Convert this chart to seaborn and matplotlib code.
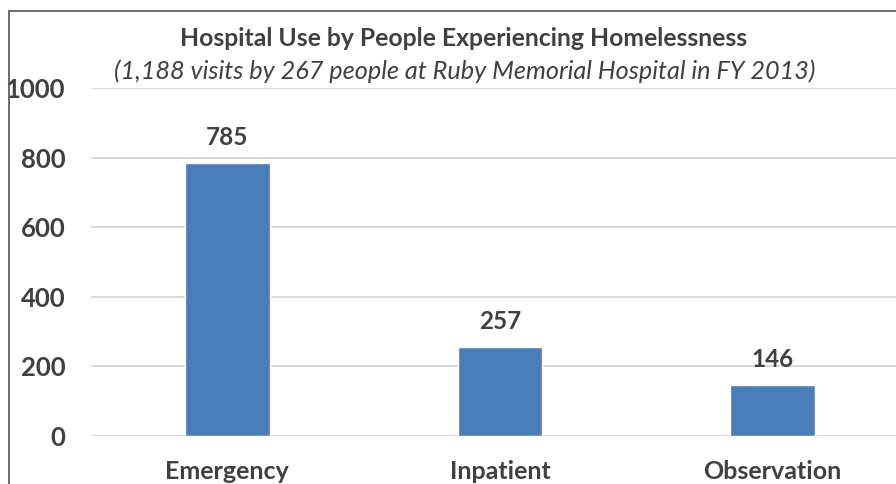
import matplotlib
matplotlib.use("Agg")
import matplotlib.pyplot as plt
from matplotlib.lines import Line2D
import seaborn as sns
import pandas as pd

categories = ["Emergency", "Inpatient", "Observation"]
visits = [785, 257, 146]
y_ticks = [0, 200, 400, 600, 800, 1000]

title = "Hospital Use by People Experiencing Homelessness"
subtitle = "(1,188 visits by 267 people at Ruby Memorial Hospital in FY 2013)"

sns.set_theme(style="white")
plt.rcParams["font.family"] = ["Lato", "DejaVu Sans"]

text_color = "#404040"
bar_color = "#4a7ebb"

df = pd.DataFrame({"category": categories, "visits": visits})

fig = plt.figure(figsize=(8.96, 4.84), dpi=100)
ax = fig.add_axes([91 / 896, 48 / 484, 818 / 896, 348 / 484])

sns.barplot(data=df, x="category", y="visits", color=bar_color,
            width=0.31, saturation=1, ax=ax, zorder=3)

ax.set_ylim(0, 1000)
ax.set_xlim(-0.5, 2.5)
ax.set_yticks(y_ticks)
ax.set_yticklabels([str(t) for t in y_ticks])
ax.grid(axis="y", color="#d9d9d9", linewidth=1.5, zorder=0)
ax.set_axisbelow(True)
for s in ax.spines.values():
    s.set_visible(False)
ax.tick_params(axis="y", length=0, pad=18.5, labelsize=18.5, labelcolor=text_color)
ax.tick_params(axis="x", length=0, pad=17.5, labelsize=18, labelcolor=text_color)
for lbl in ax.get_yticklabels() + ax.get_xticklabels():
    lbl.set_fontweight("bold")
ax.set_xlabel("")
ax.set_ylabel("")

for patch, v in zip(ax.patches, visits):
    ax.annotate(f"{v}", (patch.get_x() + patch.get_width() / 2, v),
                xytext=(0, 10), textcoords="offset points",
                ha="center", va="bottom", fontsize=17.5, fontweight="bold",
                color=text_color)

fig.text(464 / 896, 1 - 38 / 484, title, ha="center", va="center",
         fontsize=17.8, fontweight="bold", color=text_color)
fig.text(465 / 896, 1 - 71 / 484, subtitle, ha="center", va="center",
         fontsize=18.2, style="italic", color=text_color)

# frame around the chart area
fig.add_artist(Line2D([9 / 896, 9 / 896], [0, 1 - 11 / 484],
                      transform=fig.transFigure, color="#606060", linewidth=1.3))
fig.add_artist(Line2D([9 / 896, 1], [1 - 11 / 484, 1 - 11 / 484],
                      transform=fig.transFigure, color="#606060", linewidth=1.3))

fig.savefig("out.png", dpi=100)
